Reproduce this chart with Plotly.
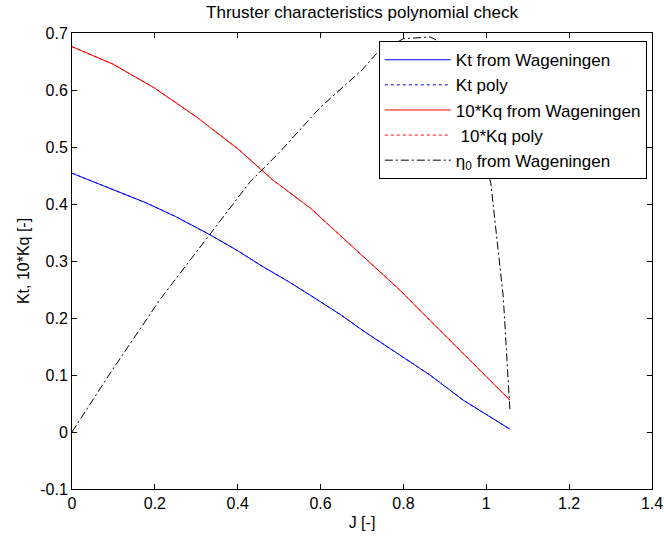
import plotly.graph_objects as go

# Advance ratio J and open-water coefficients
J_kt = [0.0, 0.043, 0.10, 0.179, 0.25, 0.333, 0.40, 0.454, 0.52, 0.575, 0.65, 0.70, 0.78, 0.864, 0.944, 1.009, 1.057]
kt = [0.454, 0.442, 0.425, 0.402, 0.378, 0.346, 0.318, 0.293, 0.265, 0.240, 0.205, 0.179, 0.140, 0.100, 0.056, 0.027, 0.005]

J_kq = [0.0, 0.10, 0.20, 0.30, 0.40, 0.485, 0.575, 0.70, 0.79, 0.864, 0.928, 0.992, 1.057]
kq10 = [0.676, 0.645, 0.603, 0.553, 0.497, 0.442, 0.393, 0.310, 0.250, 0.196, 0.150, 0.103, 0.056]

J_eta = [0.0, 0.092, 0.212, 0.333, 0.43, 0.50, 0.60, 0.70, 0.735, 0.80, 0.865, 0.90, 0.95, 0.98, 1.011, 1.041, 1.057]
eta0 = [0.0, 0.103, 0.232, 0.346, 0.439, 0.49, 0.57, 0.635, 0.664, 0.69, 0.693, 0.68, 0.62, 0.53, 0.436, 0.237, 0.039]

x_ticks = [0, 0.2, 0.4, 0.6, 0.8, 1, 1.2, 1.4]
x_tick_text = ["0", "0.2", "0.4", "0.6", "0.8", "1", "1.2", "1.4"]
y_ticks = [-0.1, 0, 0.1, 0.2, 0.3, 0.4, 0.5, 0.6, 0.7]
y_tick_text = ["-0.1", "0", "0.1", "0.2", "0.3", "0.4", "0.5", "0.6", "0.7"]

FONT = "Liberation Sans, Arial, sans-serif"
DASHDOT = "8px,3px,2px,3px"

fig = go.Figure()
fig.add_trace(go.Scatter(x=J_kt, y=kt, mode="lines", name="Kt from Wageningen",
                         line=dict(color="#0000ff", width=1)))
fig.add_trace(go.Scatter(x=J_kt, y=kt, mode="lines", name="Kt poly",
                         line=dict(color="#0000ff", width=1, dash="dot")))
fig.add_trace(go.Scatter(x=J_kq, y=kq10, mode="lines", name="10*Kq from Wageningen",
                         line=dict(color="#ff0000", width=1)))
fig.add_trace(go.Scatter(x=J_kq, y=kq10, mode="lines", name=" 10*Kq poly",
                         line=dict(color="#ff0000", width=1, dash="dot")))
fig.add_trace(go.Scatter(x=J_eta, y=eta0, mode="lines", name="η<sub>0</sub> from Wageningen",
                         line=dict(color="#000000", width=1, dash=DASHDOT)))

axis_common = dict(
    showline=True, linecolor="black", linewidth=1, mirror="ticks",
    ticks="inside", ticklen=5, tickcolor="black", tickwidth=1,
    showgrid=False, zeroline=False, automargin=False,
    tickfont=dict(family=FONT, size=16, color="black"),
)

fig.update_layout(
    width=664, height=539,
    margin=dict(l=72, r=12, t=33, b=50),
    paper_bgcolor="white", plot_bgcolor="white",
    font=dict(family=FONT, size=17, color="black"),
    title=dict(text="Thruster characteristics polynomial check", x=0.5, xref="paper",
               y=0.978, yanchor="middle", font=dict(family=FONT, size=17, color="black")),
    xaxis=dict(range=[0, 1.4], tickvals=x_ticks, ticktext=x_tick_text,
               title=dict(text="J [-]", standoff=5, font=dict(family=FONT, size=16)), **axis_common),
    yaxis=dict(range=[-0.1, 0.7], tickvals=y_ticks, ticktext=y_tick_text,
               title=dict(text="Kt, 10*Kq [-]", standoff=6, font=dict(family=FONT, size=16)), **axis_common),
    legend=dict(x=0.529, y=0.982, xanchor="left", yanchor="top",
                bgcolor="white", bordercolor="black", borderwidth=1,
                font=dict(family=FONT, size=17, color="black"),
                itemwidth=66, tracegroupgap=0),
    showlegend=True,
)

fig.write_html("out.html")
